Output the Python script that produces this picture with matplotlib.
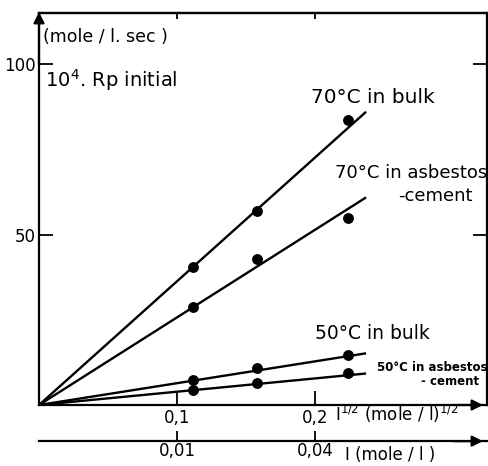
import numpy as np
import matplotlib.pyplot as plt

# initial rate vs. square root of initiator concentration
sqrt_I = [0.1118, 0.1581, 0.2236]          # (mole/l)^1/2
rp_70_bulk = [40.5, 56.9, 83.6]            # 10^4 Rp, mole/l.sec
rp_70_asb = [28.7, 42.8, 54.8]
rp_50_bulk = [7.3, 10.9, 14.7]
rp_50_asb = [4.4, 6.5, 9.4]

# slopes of the straight lines drawn through the origin
slope_70_bulk = 363.0
slope_70_asb = 257.0
slope_50_bulk = 64.0
slope_50_asb = 39.0
line_end = 0.237

I_ticks = [0.01, 0.04]
I_ticklabels = ["0,01", "0,04"]
x_ticks = [0.1, 0.2]
x_ticklabels = ["0,1", "0,2"]
y_ticks = [50, 100]


def sq(x):
    return np.clip(x, 0, None) ** 2


def rt(i):
    return np.sqrt(np.clip(i, 0, None))


W, H = 489, 466
fig = plt.figure(figsize=(W / 100, H / 100), dpi=100)
ax = fig.add_axes([39 / W, 61 / H, 448 / W, 392 / H])
ax.set_xlim(0, 0.3246)
ax.set_ylim(0, 115)

for s in ax.spines.values():
    s.set_linewidth(1.6)

xl = np.array([0, line_end])
for ys, k in [(rp_70_bulk, slope_70_bulk), (rp_70_asb, slope_70_asb),
              (rp_50_bulk, slope_50_bulk), (rp_50_asb, slope_50_asb)]:
    ax.plot(xl, k * xl, color="black", lw=1.7, solid_capstyle="butt")
    ax.plot(sqrt_I, ys, "o", color="black", ms=6.8)

# ticks
ax.set_xticks(x_ticks, x_ticklabels)
ax.set_yticks(y_ticks, ["50", "100"])
ax.tick_params(axis="x", direction="in", length=10, width=1.3, pad=3,
               labelsize=12)
ax.tick_params(axis="y", direction="in", length=10, width=1.3, pad=2,
               labelsize=12, right=True)

# short ticks on the top of the frame
top = ax.secondary_xaxis("top")
top.set_xticks(x_ticks, ["", ""])
top.tick_params(direction="in", length=4, width=1.3)
top.spines["top"].set_linewidth(1.6)

# arrow heads on the axes
arrow = dict(arrowstyle="-|>", color="black", lw=1.6, mutation_scale=16,
             shrinkA=0, shrinkB=0)
ax.annotate("", xy=(0, 115.3), xytext=(0, 100), annotation_clip=False,
            arrowprops=arrow)
ax.annotate("", xy=(0.3217, 0), xytext=(0.30, 0), annotation_clip=False,
            arrowprops=arrow)

# second scale: I itself
sec = ax.secondary_xaxis(-36 / 392, functions=(sq, rt))
sec.set_xticks(I_ticks, I_ticklabels)
sec.tick_params(direction="in", length=7, width=1.3, pad=1, labelsize=12)
sec.spines["bottom"].set_linewidth(1.6)
ax.annotate("", xy=(0.3217, -10.6), xytext=(0.30, -10.6), annotation_clip=False,
            arrowprops=arrow)

# labels
ax.text(0.0029, 107.9, "(mole / l. sec )", fontsize=12.5, va="center", ha="left")
ax.text(0.0043, 95.3, r"10$^4$. Rp initial", fontsize=14, va="center", ha="left")
ax.text(0.242, 90.3, "70°C in bulk", fontsize=14.5, va="center", ha="center")
ax.text(0.2696, 68.0, "70°C in asbestos", fontsize=13, va="center", ha="center")
ax.text(0.287, 61.3, "-cement", fontsize=13, va="center", ha="center")
ax.text(0.2413, 21.1, "50°C in bulk", fontsize=13.5, va="center", ha="center")
ax.text(0.2848, 10.9, "50°C in asbestos", fontsize=8.5, fontweight="bold",
        va="center", ha="center")
ax.text(0.2978, 7.0, "- cement", fontsize=8.5, fontweight="bold",
        va="center", ha="center")
ax.text(0.2145, -2.6, r"I$^{1/2}$ (mole / l)$^{1/2}$", fontsize=12,
        va="center", ha="left")
ax.text(0.2217, -14.7, "I (mole / l )", fontsize=12, va="center", ha="left")

fig.savefig("out.png", dpi=100)
